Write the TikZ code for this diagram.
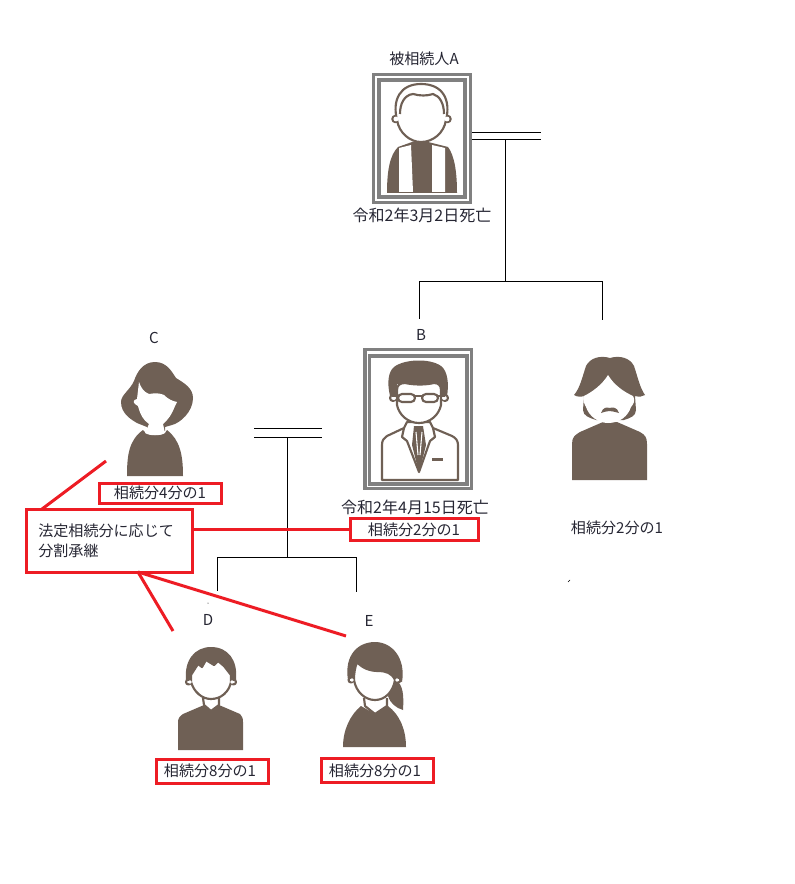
\documentclass[tikz,border=0pt]{standalone}
\usepackage{fontspec}
\setmainfont{Noto Sans CJK JP}
\definecolor{qqbrown}{rgb}{0.435,0.376,0.333}
\definecolor{ffred}{rgb}{0.93,0.11,0.14}
\definecolor{ttgray}{rgb}{0.5,0.5,0.5}
\definecolor{qqtext}{rgb}{0.15,0.15,0.2}
\tikzset{
  lbl/.style={inner sep=0pt,text=qqtext,font=\fontsize{11.3}{15}\selectfont},
  datelbl/.style={lbl,font=\fontsize{12}{15}\selectfont},
  redbox/.style={draw=ffred,line width=2.25pt,line join=miter,inner sep=0pt,text=qqtext,font=\fontsize{11.3}{15}\selectfont},
  redline/.style={color=ffred,line width=2.25pt},
  famline/.style={color=black,line width=0.75pt},
  frame/.style={color=ttgray,line width=2.4pt,line join=miter},
  bodyline/.style={color=qqbrown,line width=1.6pt,line join=round}
}
\begin{document}
\begin{tikzpicture}[x=0.75pt,y=-0.75pt,line cap=butt,line join=round]
\useasboundingbox (0,0) rectangle (794,884);
\coordinate (spouseAl) at (471,133);
\coordinate (spouseAr) at (541,133);
\coordinate (spouseBl) at (471,140);
\coordinate (spouseBr) at (541,140);
\coordinate (stemAt) at (505,140);
\coordinate (stemAb) at (505,281);
\coordinate (kidsAl) at (419,281);
\coordinate (kidsAr) at (603,281);
\coordinate (dropB) at (419,319);
\coordinate (dropX) at (602,320);
\coordinate (spouseCl) at (254,428);
\coordinate (spouseCr) at (322,428);
\coordinate (spouseDl) at (254,437);
\coordinate (spouseDr) at (322,437);
\coordinate (stemCt) at (287,437);
\coordinate (stemCb) at (287,557);
\coordinate (kidsCl) at (217,557);
\coordinate (kidsCr) at (356,557);
\coordinate (dropD) at (217,591);
\coordinate (dropE) at (356,592);
\draw [famline] (spouseAl)-- (spouseAr);
\draw [famline] (spouseBl)-- (spouseBr);
\draw [famline] (stemAt)-- (stemAb);
\draw [famline] (kidsAl)-- (kidsAr);
\draw [famline] (kidsAl)-- (dropB);
\draw [famline] (dropX |- kidsAl)-- (dropX);
\draw [famline] (spouseCl)-- (spouseCr);
\draw [famline] (spouseDl)-- (spouseDr);
\draw [famline] (stemCt)-- (stemCb);
\draw [famline] (kidsCl)-- (kidsCr);
\draw [famline] (kidsCl)-- (dropD);
\draw [famline] (kidsCr)-- (dropE);
\fill (208,603) circle (0.5);
\draw [line width=0.5pt] (568,582)-- (570,580);
% A
\draw [frame] (373.5,74.5) rectangle (470.5,202.5);
\draw [frame] (379,80) rectangle (465,197);
\fill [qqbrown] (387,193) .. controls (387,170) and (390,155) .. (398,147) -- (412,142) -- (428,142) -- (448,147) .. controls (454,155) and (457,170) .. (457,193) -- cycle;
\fill [white] (399,148) -- (411,145) -- (413,192) -- (399,192) -- cycle;
\fill [white] (432,192) -- (432,145) -- (445,148) -- (445,192) -- cycle;
\draw [bodyline,fill=white] (395.5,119) circle (3.2);
\draw [bodyline,fill=white] (447.5,119) circle (3.2);
\draw [bodyline,fill=white] (397,120) .. controls (392,100) and (400,84) .. (421,84) .. controls (443,84) and (451,100) .. (446,120) .. controls (444,133) and (433,142) .. (421,142) .. controls (410,142) and (399,133) .. (397,120) -- cycle;
\fill [white] (396,119) circle (2.4);
\fill [white] (447,119) circle (2.4);
\draw [bodyline] (400,114) .. controls (400,104) and (404,95) .. (413,94) .. controls (420,96) and (427,96) .. (433,94) .. controls (440,96) and (444,104) .. (444,114);
% B
\draw [frame] (365,349.5) rectangle (471.5,488.5);
\draw [frame] (369.5,356) rectangle (467,484);
\draw [bodyline,fill=white] (382,480) -- (382,445) .. controls (382,440) and (384,438) .. (387,436) -- (404,428) -- (407,422) -- (430,422) -- (433,428) -- (452,436) .. controls (456,438) and (458,441) .. (458,445) -- (458,480) -- cycle;
\fill [qqbrown] (414,426) -- (423,426) -- (426,445) -- (419,473) -- (412,445) -- cycle;
\draw [white,line width=0.8pt] (416,432) -- (418,455);
\draw [white,line width=0.8pt] (422,432) -- (420,455);
\draw [bodyline] (404,428) -- (402,437) -- (407,441) -- (419,472) -- (430,441) -- (435,437) -- (433,428);
\fill [qqbrown] (432,458) rectangle (443,461);
\fill [qqbrown] (390,396) .. controls (387,383) and (388,372) .. (394,367) .. controls (404,359) and (430,358) .. (441,366) .. controls (448,371) and (449,385) .. (447,396) -- (441,396) -- (440,384) -- (397,384) -- (397,396) -- cycle;
\draw [bodyline,fill=white] (393,398) circle (3);
\draw [bodyline,fill=white] (445,398) circle (3);
\draw [bodyline,fill=white] (397,390) .. controls (397,385) and (400,383) .. (405,383) .. controls (415,385) and (425,385) .. (434,383) .. controls (438,383) and (441,385) .. (441,390) -- (441,405) .. controls (439,415) and (430,423) .. (419,423) .. controls (408,423) and (399,415) .. (397,405) -- cycle;
\fill [white] (394,398) circle (2);
\fill [white] (444,398) circle (2);
\draw [bodyline,fill=white,rounded corners=3] (398,394) rectangle (415,402);
\draw [bodyline,fill=white,rounded corners=3] (422,394) rectangle (438,402);
\draw [bodyline] (415,396) -- (422,396);
\draw [bodyline] (392,396) -- (398,396);
\draw [bodyline] (438,396) -- (445,396);
% right one
\fill [qqbrown] (572,480) -- (572,444) .. controls (572,437) and (575,435) .. (580,432) -- (603,422) -- (617,422) -- (640,432) .. controls (645,435) and (647,437) .. (647,444) -- (647,480) -- cycle;
\fill [qqbrown] (610,358) .. controls (600,355) and (590,358) .. (586,366) .. controls (582,378) and (580,388) .. (574,395) .. controls (577,397) and (581,397) .. (584,396) -- (583,410) .. controls (583,416) and (590,418) .. (596,420) -- (624,420) .. controls (630,418) and (636,416) .. (636,410) -- (635,396) .. controls (639,397) and (642,397) .. (645,395) .. controls (640,388) and (638,378) .. (634,366) .. controls (630,358) and (620,355) .. (610,358) -- cycle;
\fill [white] (608,375) .. controls (602,385) and (592,392) .. (584,396) .. controls (582,400) and (585,405) .. (586,407) .. controls (589,416) and (598,423) .. (608,423) .. controls (620,423) and (628,416) .. (631,407) .. controls (633,405) and (636,400) .. (633,396) .. controls (624,392) and (614,385) .. (608,375) -- cycle;
\fill [qqbrown] (601,413) .. controls (603,407) and (607,407) .. (609.5,408) .. controls (613,407) and (617,407) .. (619,413) .. controls (615,412) and (612,411) .. (609.5,411) .. controls (607,411) and (604,412) .. (601,413) -- cycle;
% C
\fill [qqbrown] (127,476) .. controls (127,455) and (129,440) .. (143,430) -- (146,433) .. controls (150,436) and (160,436) .. (165,433) -- (167,430) .. controls (180,440) and (183,455) .. (183,476) -- cycle;
\fill [qqbrown] (155,362) .. controls (143,362) and (137,372) .. (134,381) .. controls (130,390) and (121,395) .. (121,402) .. controls (121,414) and (132,420) .. (137,423) -- (147,427) -- (147,431) -- (165,431) -- (165,427) -- (172,425) .. controls (180,423) and (193,412) .. (193,398) .. controls (193,388) and (184,383) .. (176,378) .. controls (172,372) and (167,362) .. (155,362) -- cycle;
\fill [white] (139,382) .. controls (141,388) and (144,392) .. (149,394) .. controls (155,393) and (160,393) .. (164,395) .. controls (168,399) and (172,401) .. (177,402) -- (175,406) .. controls (172,414) and (168,420) .. (163,424) -- (165,433) .. controls (160,436) and (150,436) .. (145,433) -- (149,424) .. controls (143,420) and (140,414) .. (138,406) -- (135,404) .. controls (133,402) and (133,400) .. (137,399) -- cycle;
% D
\fill [qqbrown] (178,750) -- (178,722) .. controls (178,718) and (180,716) .. (183,714) -- (204,705) -- (211,711) -- (219,705) -- (240,714) .. controls (242,716) and (243,718) .. (243,722) -- (243,750) -- cycle;
\draw [bodyline,fill=white] (203,698) -- (204,705) -- (211,711) -- (219,705) -- (219,698);
\fill [qqbrown] (186,680) .. controls (184,660) and (195,647) .. (211,647) .. controls (228,647) and (238,660) .. (236,680) -- cycle;
\draw [bodyline,fill=white] (188.5,682) circle (2.5);
\draw [bodyline,fill=white] (233.5,682) circle (2.5);
\draw [bodyline,fill=white] (191,675) -- (198,664) -- (202,667) -- (206,660) -- (214,665) -- (218,661) -- (224,666) -- (231,675) -- (231,682) .. controls (229,692) and (221,699) .. (211,699) .. controls (202,699) and (194,692) .. (191,682) -- cycle;
\fill [white] (190,682) circle (1.8);
\fill [white] (232,682) circle (1.8);
% E
\fill [qqbrown] (343,747) .. controls (343,730) and (350,715) .. (361,706) -- (375,714) -- (388,706) .. controls (400,715) and (406,730) .. (406,747) -- cycle;
\fill [qqbrown] (396,680) .. controls (403,685) and (404,695) .. (403,710) .. controls (396,708) and (390,703) .. (388,696) -- cycle;
\draw [bodyline,fill=white] (364,698) -- (365,706) -- (375,714) -- (387,706) -- (387,698);
\fill [qqbrown] (348,680) .. controls (344,655) and (358,642) .. (375,642) .. controls (392,642) and (406,658) .. (402,682) -- (398,680) -- (350,680) -- cycle;
\draw [bodyline,fill=white] (351,680) circle (2.5);
\draw [bodyline,fill=white] (398,680) circle (2.5);
\draw [bodyline,fill=white] (354,680) .. controls (354,672) and (355,668) .. (357,662) .. controls (362,668) and (370,671) .. (378,671) .. controls (386,671) and (392,673) .. (395,680) .. controls (393,692) and (385,700) .. (375,700) .. controls (365,700) and (356,692) .. (354,680) -- cycle;
\fill [white] (352,680) circle (1.8);
\fill [white] (397,680) circle (1.8);
\node [lbl] (nameA) at (424,59) {被相続人A};
\node [datelbl] (diedA) at (422,215) {令和2年3月2日死亡};
\node [lbl] (nameB) at (421,335) {B};
\node [datelbl] (diedB) at (415,507) {令和2年4月15日死亡};
\node [lbl] (shareX) at (617,528) {相続分2分の1};
\node [lbl] (nameC) at (154,338) {C};
\node [lbl] (nameD) at (208,620) {D};
\node [lbl] (nameE) at (369,621) {E};
\node [redbox,minimum width=96pt,minimum height=16.5pt] (shareB) at (414,529.5) {相続分2分の1};
\node [redbox,minimum width=91.5pt,minimum height=15pt] (shareC) at (160,493) {相続分4分の1};
\node [redbox,minimum width=84pt,minimum height=18pt] (shareD) at (212,771) {相続分8分の1\kern3pt};
\node [redbox,minimum width=84pt,minimum height=18.5pt] (shareE) at (377,770.5) {相続分8分の1\kern3pt};
\node [redbox,minimum width=124.5pt,minimum height=47.25pt,text width=106pt,align=left] (mainbox) at (109,540.5) {法定相続分に応じて\\分割承継};
\coordinate (mainR) at (192,529.5);
\coordinate (mainT) at (42,509);
\coordinate (mainB) at (138,572);
\coordinate (endC) at (106,461);
\coordinate (endD) at (173,631);
\coordinate (endE) at (346,636);
\draw [redline] (mainR)-- (shareB.west);
\draw [redline] (mainT)-- (endC);
\draw [redline] (mainB)-- (endD);
\draw [redline] (mainB)-- (endE);
\end{tikzpicture}
\end{document}
